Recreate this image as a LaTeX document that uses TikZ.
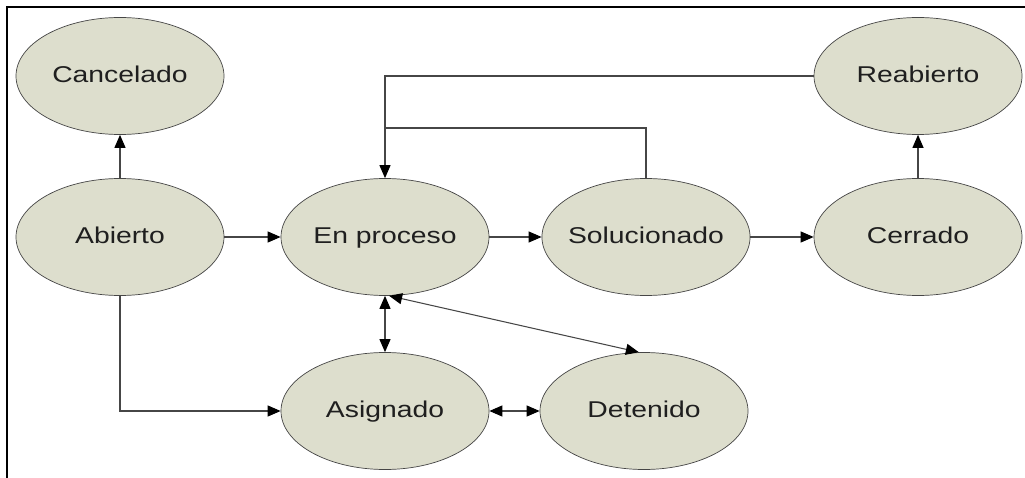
\documentclass[tikz,border=0pt]{standalone}
\usepackage{fontspec}
\setmainfont{Liberation Sans}[FakeStretch=1.24]
\usetikzlibrary{shapes.geometric,arrows.meta}
\definecolor{estado}{RGB}{221,222,205}
\definecolor{linea}{RGB}{70,70,70}
\begin{document}
\begin{tikzpicture}[
	state/.style={ellipse, draw=linea, fill=estado, minimum width=4.16cm, minimum height=2.34cm, inner sep=-2.5pt, text height=0.72em, text depth=0pt, font=\fontsize{13}{16}\selectfont, text=black!88},
	tip/.tip={Triangle[length=2.6mm,width=2.2mm,color=black]},
	arr/.style={draw=linea, line width=0.6pt, -tip},
	darr/.style={draw=linea, line width=0.6pt, tip-tip}
	]
			\useasboundingbox (0,0) rectangle (20.5,-9.56);
			\draw[line width=1.4pt] (20.5,-0.14) -- (0.14,-0.14) -- (0.14,-9.56);
			\node[state] (canc) at (2.4,-1.52) {Cancelado};
			\node[state] (abie) at (2.4,-4.74) {Abierto};
			\node[state] (proc) at (7.7,-4.74) {En proceso};
			\node[state] (solu) at (12.92,-4.74) {Solucionado};
			\node[state] (cerr) at (18.36,-4.74) {Cerrado};
			\node[state] (reab) at (18.36,-1.52) {Reabierto};
			\node[state] (asig) at (7.7,-8.22) {Asignado};
			\node[state] (dete) at (12.88,-8.22) {Detenido};
			\coordinate (junc) at (7.7,-2.56);
			\draw[arr] (abie) -- (canc);
			\draw[arr] (abie) -- (proc);
			\draw[arr] (proc) -- (solu);
			\draw[arr] (solu) -- (cerr);
			\draw[arr] (cerr) -- (reab);
			\draw[arr] (reab) -| (proc);
			\draw[draw=linea, line width=0.6pt] (solu) |- (junc);
			\draw[arr] (abie) |- (asig);
			\draw[darr] (proc) -- (asig);
			\draw[darr] (proc.-86) -- (dete.95);
			\draw[darr] (asig) -- (dete);
			\end{tikzpicture}
\end{document}
